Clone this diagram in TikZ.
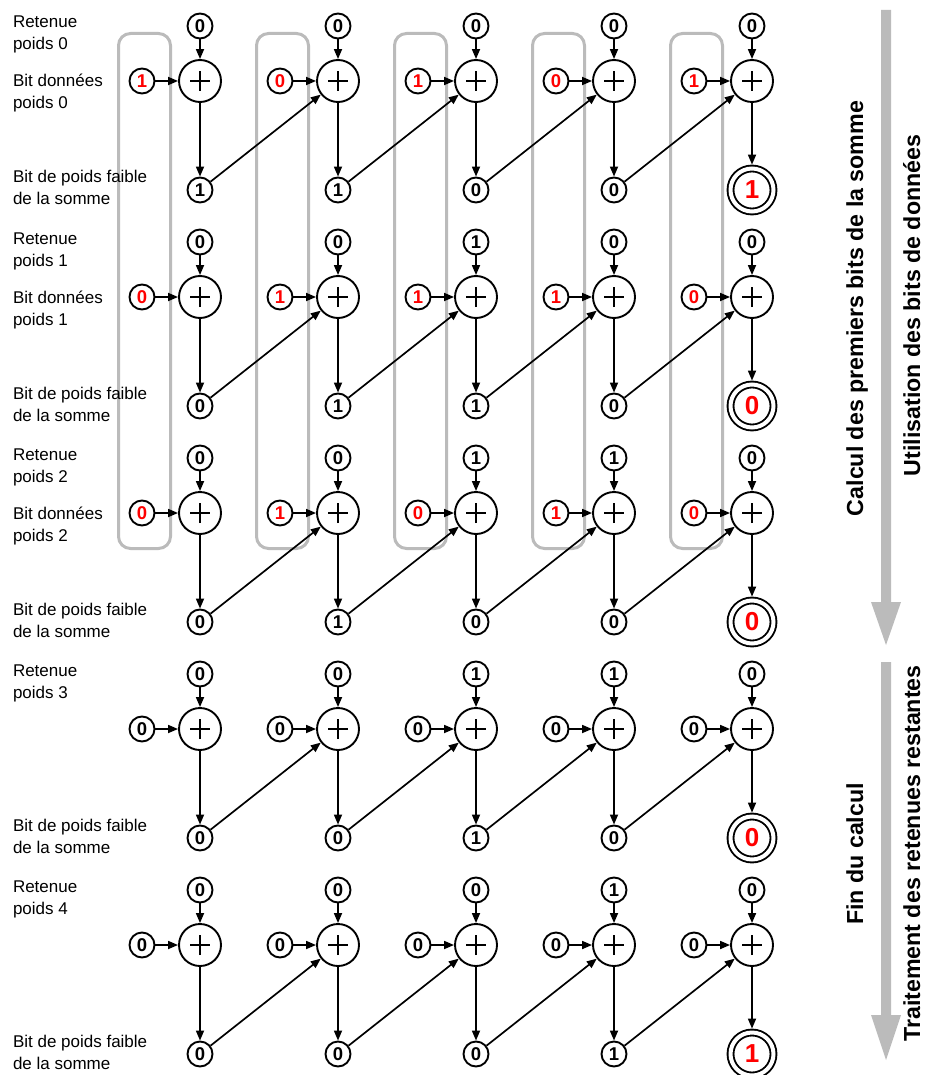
\documentclass[tikz,border=0pt]{standalone}
\usepackage{fontspec}
\setmainfont{Liberation Sans}
\usetikzlibrary{arrows.meta}
\definecolor{lgray}{RGB}{187,187,187}
\definecolor{dred}{RGB}{255,0,0}
\tikzset{
  every node/.style={inner sep=0pt, outer sep=0pt},
  bitnode/.style={circle, draw, line width=1.9pt, minimum size=25pt, outer sep=0.95pt,
    font=\fontsize{18.5}{20}\selectfont\bfseries},
  addnode/.style={circle, draw, line width=1.9pt, minimum size=42pt, outer sep=0.95pt,
    path picture={\draw[line width=1.5pt]
      ([xshift=-10pt]path picture bounding box.center) -- ([xshift=10pt]path picture bounding box.center)
      ([yshift=-10pt]path picture bounding box.center) -- ([yshift=10pt]path picture bounding box.center);}},
  resnode/.style={circle, draw, line width=1.9pt, double, double distance=4pt, minimum size=43pt,
    outer sep=3.9pt, text=dred, font=\fontsize{26}{28}\selectfont\bfseries},
  conn/.style={line width=1.7pt, -{Triangle[length=10pt,width=8pt]}},
  grouprect/.style={draw=lgray, line width=3pt, rounded corners=12pt},
  lbl/.style={anchor=base west, align=left, font=\fontsize{17}{22}\selectfont},
  side/.style={rotate=90, anchor=base, font=\fontsize{23.2}{26}\selectfont\bfseries},
}
\begin{document}
\begin{tikzpicture}[x=1pt, y=-1pt]
\useasboundingbox (0,0) rectangle (925,1075);
% grouping rectangles
\foreach \i in {0,...,4}{
  \draw[grouprect] ({144.5+138*\i-26},33.5) rectangle ({144.5+138*\i+26},548.5);
}
% big side arrows
\fill[lgray] (881,10) -- (891,10) -- (891,602) -- (901,602) -- (886,645) -- (871,602) -- (881,602) -- cycle;
\fill[lgray] (881,662) -- (891,662) -- (891,1015) -- (901,1015) -- (886,1060) -- (871,1015) -- (881,1015) -- cycle;
\node[side] (t1) at (863,308.5) {Calcul des premiers bits de la somme};
\node[side] (t2) at (920,305.5) {Utilisation des bits de données};
\node[side] (t3) at (863,854) {Fin du calcul};
\node[side] (t4) at (920,853.5) {Traitement des retenues restantes};
% blocks
\foreach \b/\dl/\cl/\sl/\dc in {
  0/{1,0,1,0,1}/{0,0,0,0,0}/{1,1,0,0,1}/dred,
  1/{0,1,1,1,0}/{0,0,1,0,0}/{0,1,1,0,0}/dred,
  2/{0,1,0,1,0}/{0,0,1,1,0}/{0,1,0,0,0}/dred,
  3/{0,0,0,0,0}/{0,0,1,1,0}/{0,0,1,0,0}/black,
  4/{0,0,0,0,0}/{0,0,0,1,0}/{0,0,0,1,1}/black}{
  \node[lbl] (lr-\b) at (13,{50+216*\b}) {Retenue\\poids \b};
  \ifnum\b<3
    \node[lbl] (ld-\b) at (13,{109+216*\b}) {Bit données\\poids \b};
  \fi
  \node[lbl] (ls-\b) at (13,{205+216*\b}) {Bit de poids faible\\de la somme};
  \foreach \i in {0,...,4}{
    \node[addnode] (p-\b-\i) at ({200+138*\i},{81+216*\b}) {};
  }
  \foreach \v [count=\i from 0] in \cl {
    \node[bitnode] (c-\b-\i) at ({200+138*\i},{26+216*\b}) {\v};
    \draw[conn] (c-\b-\i) -- (p-\b-\i);
  }
  \foreach \v [count=\i from 0] in \dl {
    \node[bitnode, text=\dc] (d-\b-\i) at ({142+138*\i},{81+216*\b}) {\v};
    \draw[conn] (d-\b-\i) -- (p-\b-\i);
  }
  \foreach \v [count=\i from 0] in \sl {
    \ifnum\i<4
      \node[bitnode] (s-\b-\i) at ({200+138*\i},{190+216*\b}) {\v};
    \else
      \node[resnode] (s-\b-\i) at ({200+138*\i},{190+216*\b}) {\v};
    \fi
    \draw[conn] (p-\b-\i) -- (s-\b-\i);
  }
  \foreach \i [evaluate=\i as \j using int(\i+1)] in {0,...,3}{
    \draw[conn] (s-\b-\i) -- (p-\b-\j);
  }
}
\end{tikzpicture}
\end{document}
